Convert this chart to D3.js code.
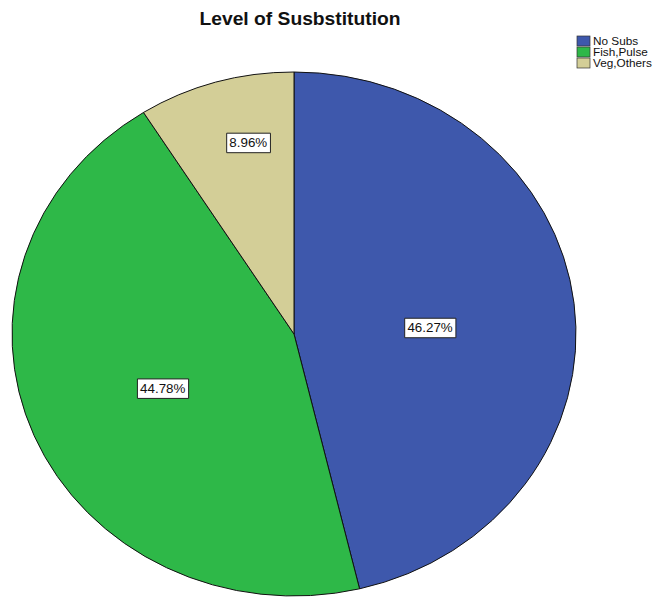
<!DOCTYPE html>
<html>
<head>
<meta charset="utf-8">
<script src="https://cdn.jsdelivr.net/npm/d3@7"></script>
<style>
  html, body { margin: 0; padding: 0; background: #fff; }
  svg { display: block; font-family: "Liberation Sans", Arial, sans-serif; }
</style>
</head>
<body>
<svg id="chart" width="660" height="600"></svg>
<script>
// Share of respondents by level of substitution
const categories = ["No Subs", "Fish,Pulse", "Veg,Others"];
const percents = [46.27, 44.78, 8.96];
const colors = ["#3e58ac", "#2eb848", "#d3ce97"];

// Label placement: radius fraction and angular nudge (degrees) from each slice's middle
const labelRadius = [0.483, 0.51, 0.747];
const labelNudge = [4.0, -1.3, 3.6];

const svg = d3.select("#chart");
const stretch = 1.07; // horizontal text stretch

// Pie geometry (drawn as a circle, stretched to an ellipse)
const cx = 294, cy = 334, rx = 282, ry = 262, r = 100;

const pie = d3.pie().sort(null).value(d => d.value);
const arcs = pie(categories.map((c, i) => ({ name: c, value: percents[i], color: colors[i], lr: labelRadius[i], nudge: labelNudge[i] })));
const arc = d3.arc().innerRadius(0).outerRadius(r);

const g = svg.append("g")
  .attr("transform", `translate(${cx},${cy}) scale(${rx / r},${ry / r})`);

g.selectAll("path")
  .data(arcs)
  .join("path")
  .attr("d", arc)
  .attr("fill", d => d.data.color)
  .attr("stroke", "#111")
  .attr("stroke-width", 1)
  .attr("vector-effect", "non-scaling-stroke");

// Value labels in white boxes
const labels = svg.append("g");
arcs.forEach(d => {
  const a = (d.startAngle + d.endAngle) / 2 + d.data.nudge * Math.PI / 180;
  const x = cx + Math.sin(a) * d.data.lr * rx;
  const y = cy - Math.cos(a) * d.data.lr * ry;
  const lg = labels.append("g").attr("transform", `translate(${x},${y}) scale(${stretch},1)`);
  const t = lg.append("text")
    .attr("text-anchor", "middle")
    .attr("dy", "0.35em")
    .attr("font-size", 12.5)
    .attr("fill", "#111")
    .text(d.data.value.toFixed(2) + "%");
  const bb = t.node().getBBox();
  lg.insert("rect", "text")
    .attr("x", bb.x - 2.5)
    .attr("y", -9.75)
    .attr("width", bb.width + 5)
    .attr("height", 19.5)
    .attr("fill", "#fff")
    .attr("stroke", "#222")
    .attr("stroke-width", 1)
    .attr("vector-effect", "non-scaling-stroke");
});

// Title
svg.append("text")
  .attr("transform", `translate(300,25) scale(${stretch},1)`)
  .attr("text-anchor", "middle")
  .attr("font-size", 18)
  .attr("font-weight", "bold")
  .attr("fill", "#111")
  .text("Level of Susbstitution");

// Legend
const legend = svg.append("g").attr("transform", "translate(577,36)");
categories.forEach((c, i) => {
  const row = legend.append("g").attr("transform", `translate(0,${i * 11})`);
  row.append("rect")
    .attr("width", 13)
    .attr("height", 10)
    .attr("fill", colors[i])
    .attr("stroke", "#333")
    .attr("stroke-width", 0.7);
  row.append("text")
    .attr("transform", `translate(16,5) scale(${stretch},1)`)
    .attr("dy", "0.35em")
    .attr("font-size", 11)
    .attr("fill", "#111")
    .text(c);
});
</script>
</body>
</html>
